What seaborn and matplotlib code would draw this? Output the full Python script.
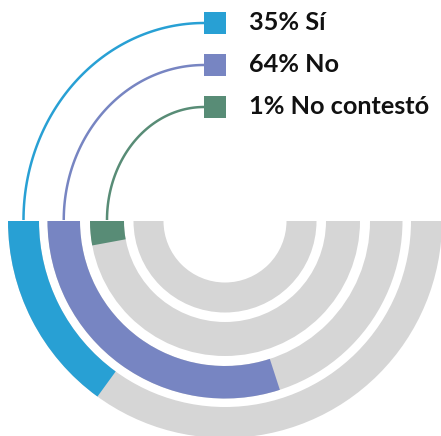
import matplotlib
matplotlib.use("Agg")
import matplotlib.pyplot as plt
from matplotlib.patches import Wedge
import numpy as np
import seaborn as sns
import pandas as pd

# ---- data ----
labels = ["Sí", "No", "No contestó"]
pct = [35, 64, 1]
# share of the half ring filled by each coloured arc, as drawn in the picture
arc_share = [30, 60, 5.8]
colors = ["#28A0D4", "#7785C2", "#588C76"]
grey = "#D6D6D6"

sns.set_theme(style="white")
plt.rcParams["font.family"] = ["Lato", "DejaVu Sans"]

W, H = 441, 436
fig = plt.figure(figsize=(W / 100, H / 100), dpi=100)
ax = fig.add_axes([0, 0, 1, 1])
ax.set_xlim(0, W)
ax.set_ylim(0, H)
ax.set_aspect("equal")
ax.axis("off")

cx, cy = 225, H - 221
rings = [(186, 217), (145, 177.5), (101, 135), (61.5, 91.5)]

# grey background half rings
for r_in, r_out in rings:
    ax.add_patch(Wedge((cx, cy), r_out, 180, 360, width=r_out - r_in,
                       facecolor=grey, edgecolor="none"))

# coloured arcs
for (r_in, r_out), share, col in zip(rings, arc_share, colors):
    ax.add_patch(Wedge((cx, cy), r_out, 180, 180 + 180 * share / 100,
                       width=r_out - r_in, facecolor=col, edgecolor="none"))

# legend squares, connectors and text
leg_x = 215
leg_y = [H - 23, H - 65, H - 107]
df = pd.DataFrame({"x": [leg_x] * 3, "y": leg_y, "lab": labels})

t = np.linspace(np.pi / 2, np.pi, 80)
for (r_in, r_out), ly, col, p, lab in zip(rings, leg_y, colors, pct, labels):
    x0 = cx - (r_in + r_out) / 2
    ex, ey = 204, H - 220
    rh = ex - x0
    rv = ly - ey
    ax.plot(ex + rh * np.cos(t), ey + rv * np.sin(t), color=col, lw=1.8,
            solid_capstyle="butt")
    ax.text(249, ly, f"{p}% {lab}", ha="left", va="center",
            fontsize=18.2, fontweight="bold", color="#111111")

sns.scatterplot(data=df, x="x", y="y", hue="lab", palette=colors, marker="s",
                s=22 * 22 * 0.52, linewidth=0, legend=False, ax=ax, zorder=3)

fig.savefig("out.png", dpi=100)
